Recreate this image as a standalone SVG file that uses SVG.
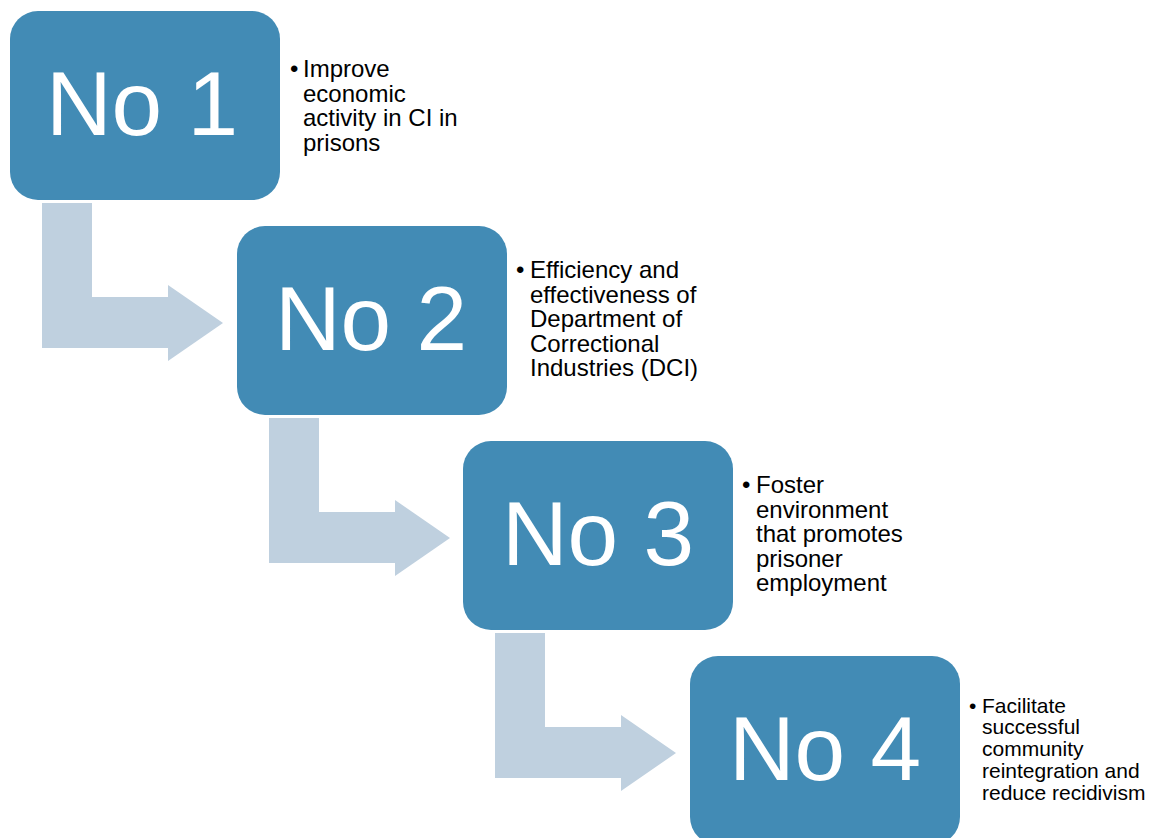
<svg xmlns="http://www.w3.org/2000/svg" width="1149" height="838" viewBox="0 0 1149 838">
<style>
.box{fill:#428BB5}
.arr{fill:#BFD0DF}
.num{font-family:"Liberation Sans",Arial,sans-serif;font-size:91px;fill:#fff;text-anchor:middle}
.t{font-family:"Liberation Sans",Arial,sans-serif;font-size:24px;fill:#000}
.t4{font-family:"Liberation Sans",Arial,sans-serif;font-size:21px;fill:#000}
</style>
<rect width="1149" height="838" fill="#fff"/>
<g id="connectors">
<path class="arr" d="M42,203 H92 V297 H168 V285 L223,323 L168,361 V348 H42 Z"/>
<path class="arr" d="M269,418 H319 V512 H395 V500 L450,538 L395,576 V563 H269 Z"/>
<path class="arr" d="M495,633 H545 V727 H621 V715 L676,753 L621,791 V778 H495 Z"/>
</g>
<g id="node1">
<rect class="box" x="10" y="11" width="270" height="189" rx="28"/>
<text class="num" x="142" y="135">No 1</text>
<text class="t" x="290" y="77">•</text>
<text class="t"><tspan x="303" y="77">Improve</tspan><tspan x="303" y="101.6">economic</tspan><tspan x="303" y="126.2">activity in CI in</tspan><tspan x="303" y="150.8">prisons</tspan></text>
</g>
<g id="node2">
<rect class="box" x="237" y="226" width="270" height="189" rx="28"/>
<text class="num" x="371" y="350">No 2</text>
<text class="t" x="516" y="278">•</text>
<text class="t"><tspan x="530" y="278">Efficiency and</tspan><tspan x="530" y="302.6">effectiveness of</tspan><tspan x="530" y="327.2">Department of</tspan><tspan x="530" y="351.8">Correctional</tspan><tspan x="530" y="376.4">Industries (DCI)</tspan></text>
</g>
<g id="node3">
<rect class="box" x="463" y="441" width="270" height="189" rx="28"/>
<text class="num" x="598" y="565">No 3</text>
<text class="t" x="742" y="493">•</text>
<text class="t"><tspan x="756" y="493">Foster</tspan><tspan x="756" y="517.6">environment</tspan><tspan x="756" y="542.2">that promotes</tspan><tspan x="756" y="566.8">prisoner</tspan><tspan x="756" y="591.4">employment</tspan></text>
</g>
<g id="node4">
<rect class="box" x="690" y="656" width="270" height="189" rx="28"/>
<text class="num" x="825" y="780">No 4</text>
<text class="t4" x="969" y="712.5">•</text>
<text class="t4"><tspan x="982" y="712.5">Facilitate</tspan><tspan x="982" y="734.3">successful</tspan><tspan x="982" y="756.1">community</tspan><tspan x="982" y="777.9">reintegration and</tspan><tspan x="982" y="799.7">reduce recidivism</tspan></text>
</g>
</svg>
